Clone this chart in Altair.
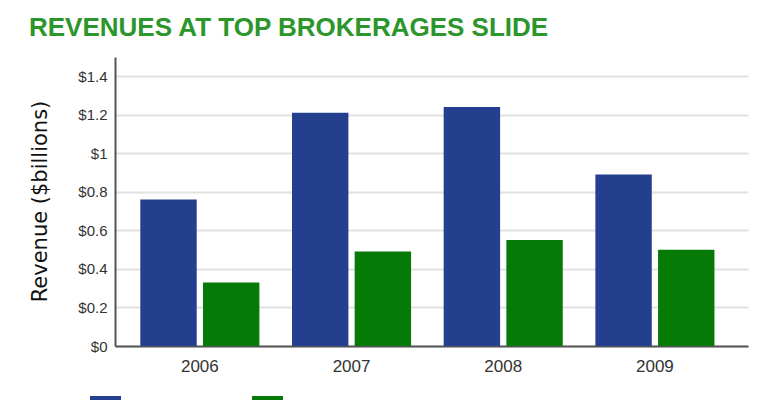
import altair as alt
import pandas as pd

years = ["2006", "2007", "2008", "2009"]
series = ["Wirehouses", "Regionals"]
blue_vals = [0.76, 1.21, 1.24, 0.89]
green_vals = [0.33, 0.49, 0.55, 0.50]
y_ticks = [0, 0.2, 0.4, 0.6, 0.8, 1.0, 1.2, 1.4]
colors = ["#253f8f", "#067a06"]

rows = []
for i, yr in enumerate(years):
    rows.append({"year": yr, "series": series[0], "value": blue_vals[i]})
    rows.append({"year": yr, "series": series[1], "value": green_vals[i]})
df = pd.DataFrame(rows)

sans = "Liberation Sans, Arial, sans-serif"

chart = alt.Chart(df).mark_bar().encode(
    x=alt.X("year:N", sort=years,
            scale=alt.Scale(paddingInner=0.215, paddingOuter=0.194, align=0.43),
            axis=alt.Axis(title=None, labelAngle=0, labelFont=sans, labelFontSize=17,
                          labelColor="#333", labelPadding=12, ticks=False,
                          domainColor="#555", domainWidth=2)),
    xOffset=alt.XOffset("series:N", sort=series, scale=alt.Scale(paddingInner=0.1)),
    y=alt.Y("value:Q", scale=alt.Scale(domain=[0, 1.5], nice=False),
            axis=alt.Axis(values=y_ticks, title="Revenue ($billions)",
                          labelExpr="'$' + format(datum.value, '.1~f')",
                          labelFont=sans, labelFontSize=15, labelColor="#333",
                          labelPadding=8, ticks=False,
                          domainColor="#555", domainWidth=2,
                          gridColor="#e2e2e2", gridWidth=2,
                          titleFont="DejaVu Sans", titleFontSize=21,
                          titleFontWeight="normal", titleColor="#111",
                          titleX=-75, titleY=144, titleBaseline="middle",
                          titleAlign="center", titleAngle=-90)),
    color=alt.Color("series:N", sort=series,
                    scale=alt.Scale(domain=series, range=colors),
                    legend=alt.Legend(title=None, orient="none", legendX=-25, legendY=339,
                                      direction="horizontal", symbolType="square",
                                      symbolSize=961, symbolStrokeWidth=0,
                                      labelFontSize=16, labelColor="#333",
                                      columnPadding=42, padding=0)),
).properties(
    width=633,
    height=289,
    title=alt.TitleParams(
        "REVENUES AT TOP BROKERAGES SLIDE",
        anchor="start", dx=0, offset=16,
        font=sans, fontSize=26, fontWeight="bold", color="#2b962b"),
    autosize=alt.AutoSizeParams(type="none"),
    padding={"left": 107, "top": 49, "right": 14, "bottom": 62},
).configure_view(stroke=None)

chart.save("out.html", embed_options={"renderer": "svg", "actions": False})
